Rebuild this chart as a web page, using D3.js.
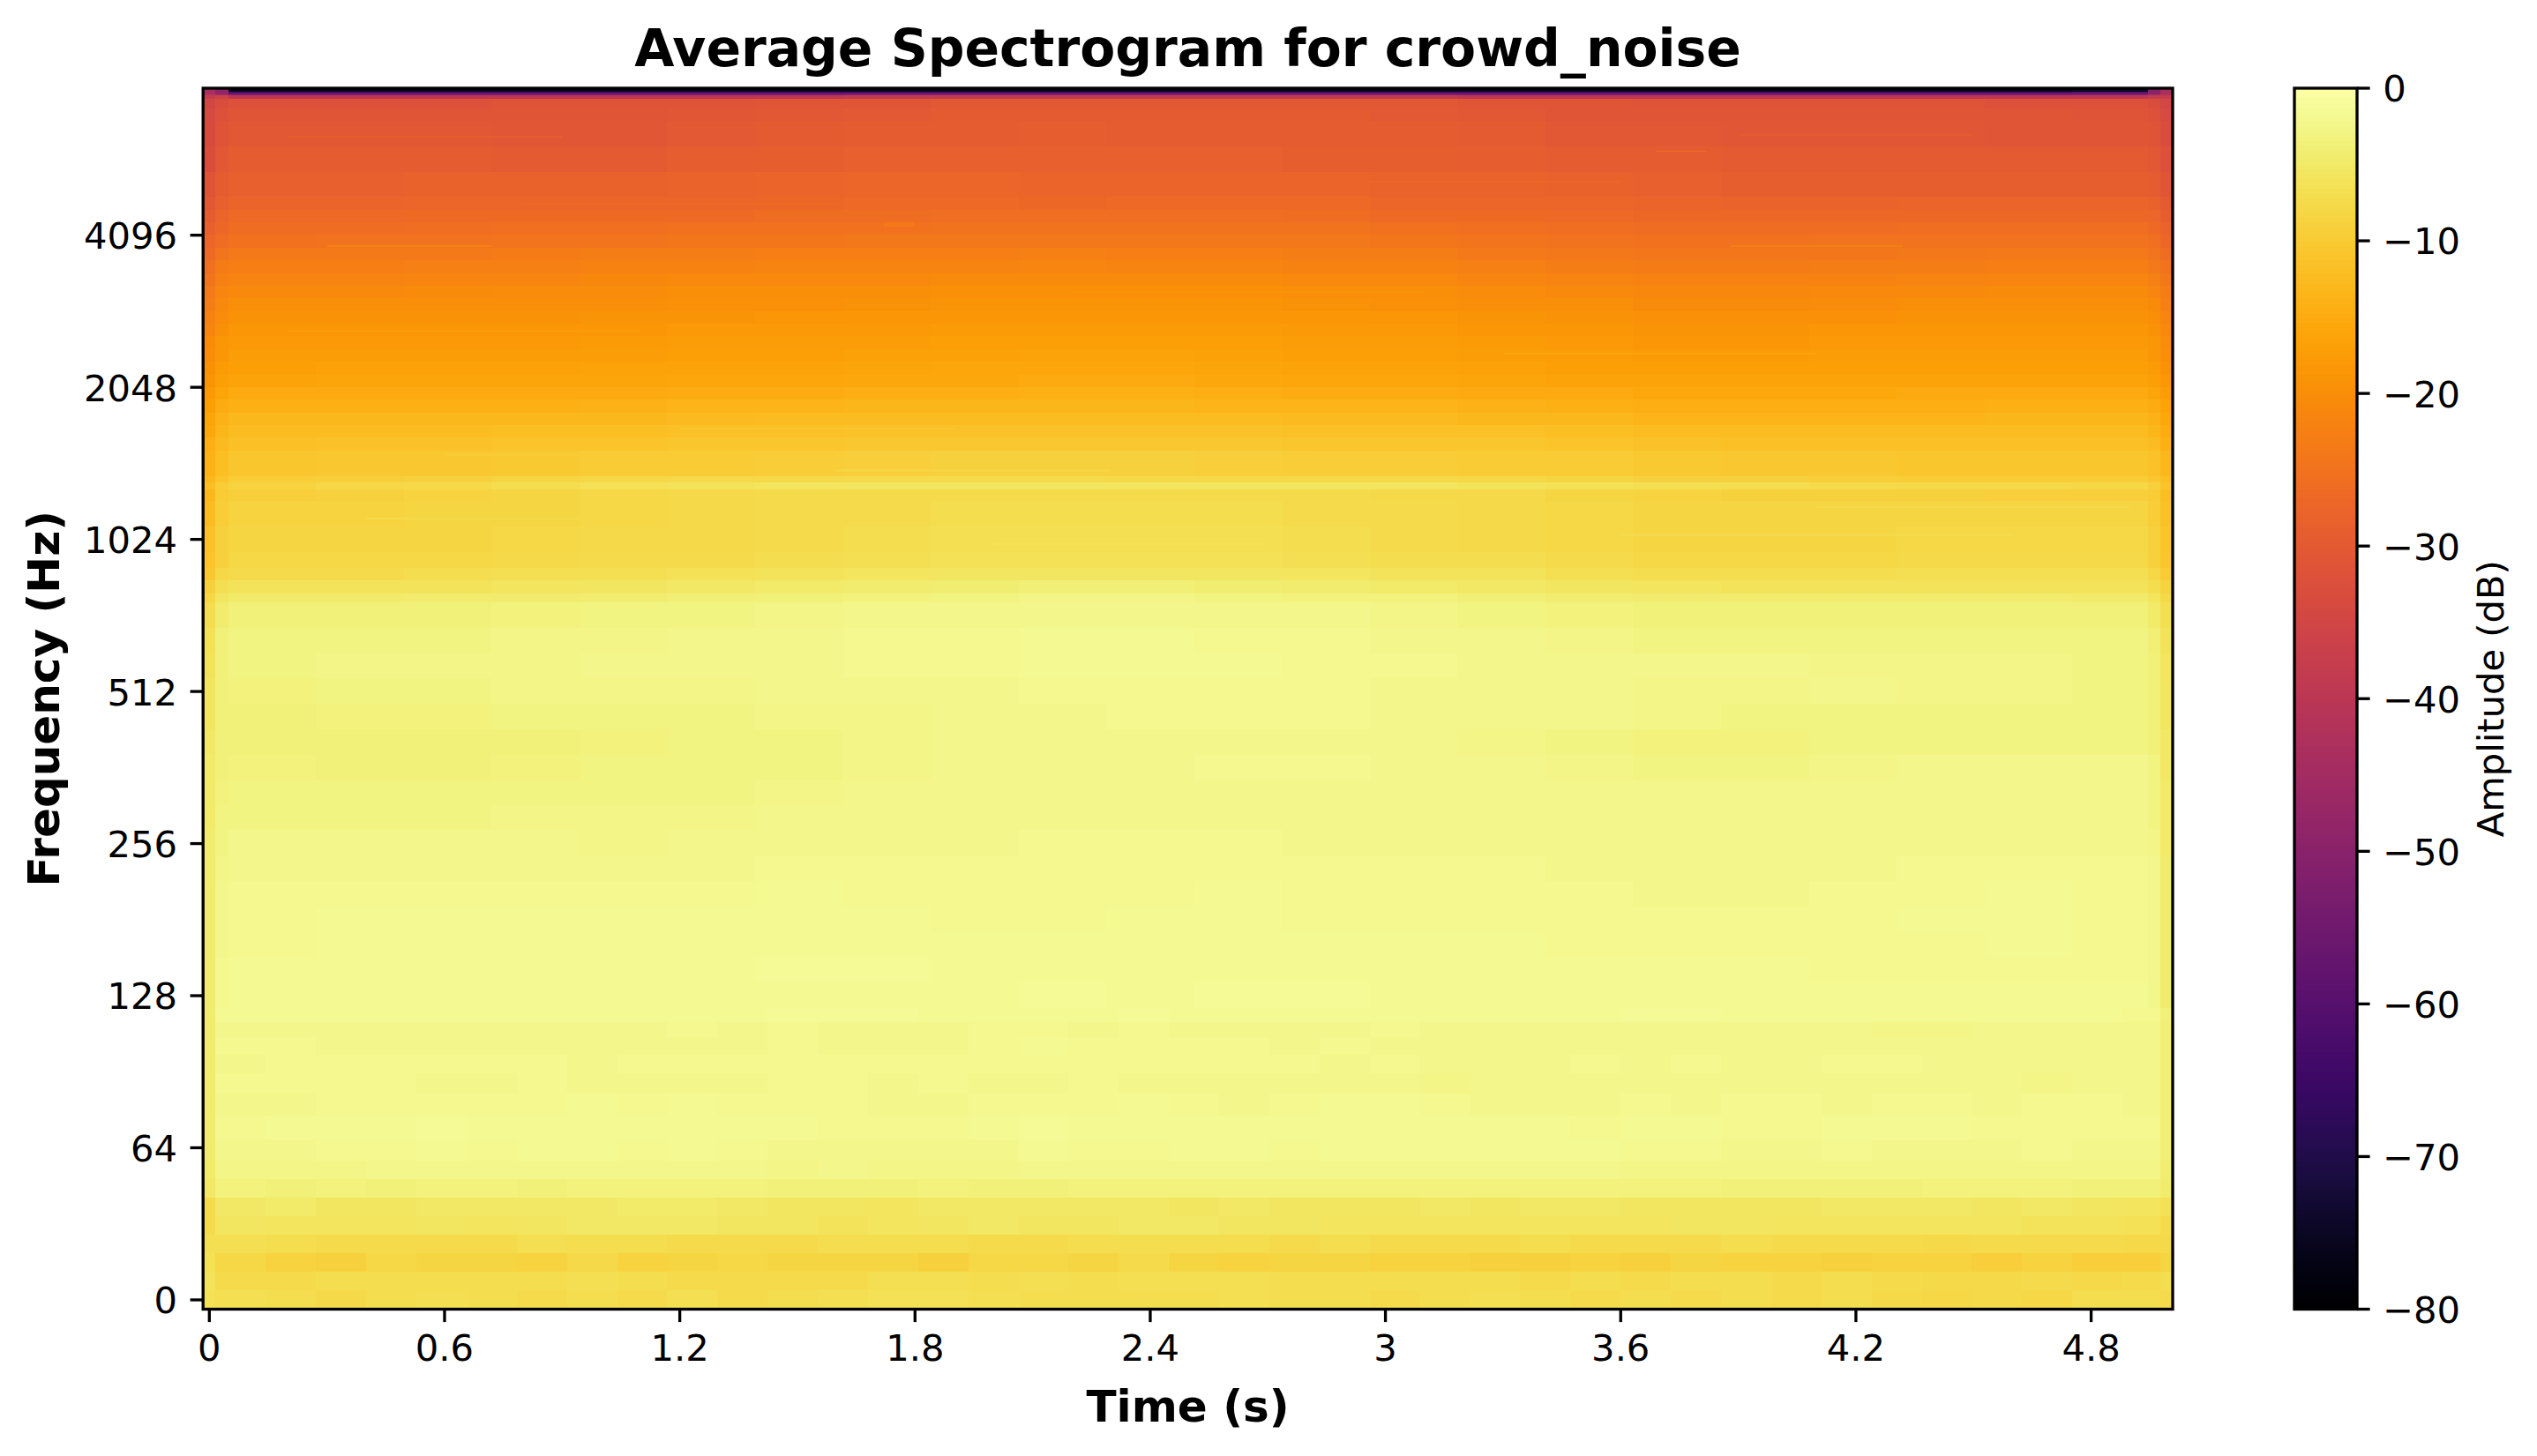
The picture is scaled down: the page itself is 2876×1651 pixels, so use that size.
<!DOCTYPE html>
<html>
<head>
<meta charset="utf-8">
<script src="https://cdn.jsdelivr.net/npm/d3@7"></script>
<style>
  html, body { margin: 0; padding: 0; background: #fff; }
  svg { display: block; font-family: "DejaVu Sans", sans-serif; }
</style>
</head>
<body>
<script>
// frame hop in seconds
const hop = 0.032;

const xTicks = [0, 0.6, 1.2, 1.8, 2.4, 3, 3.6, 4.2, 4.8];
const yTicks = [0, 64, 128, 256, 512, 1024, 2048, 4096];
const cbarTicks = [0, -10, -20, -30, -40, -50, -60, -70, -80];

// high band, frame boundaries of each block column
const highFrames = [0, 1, 2, 9, 16, 23, 30, 37, 44, 51, 58, 65, 72, 79, 86, 93, 100, 107, 114, 121, 128, 135, 142, 149, 155, 156, 157];

// high band, row boundaries in Hz, top row first
const highHz = [8004, 7935, 7870, 7805, 7746, 7622, 7300, 6896, 6144, 5473, 4876, 4600, 4344, 4100, 3870, 3650, 3448, 3255, 3072, 2900, 2737, 2583, 2438, 2300, 2172, 2050, 1935, 1827, 1724, 1627, 1536, 1368, 1330, 1285, 1219, 1086, 968, 900, 850, 800, 768, 684, 609, 543, 484, 431, 384, 342, 305, 272, 242, 216, 192, 171, 152, 136, 121];

// high band amplitude in dB
const highDb = [
  [-44,-49,-79,-79,-79,-79,-79,-79,-79,-79,-79,-79,-79,-79,-79,-79,-79,-79,-79,-79,-79,-79,-79,-79,-50,-44],
  [-44,-49,-76,-76,-76,-76,-76,-76,-76,-76,-76,-76,-76,-76,-76,-76,-76,-76,-76,-76,-76,-76,-76,-75,-50,-44],
  [-44,-49,-62,-62,-62,-62,-62,-62,-62,-62,-62,-62,-62,-62,-62,-62,-62,-62,-62,-62,-62,-62,-62,-60,-50,-44],
  [-42,-46,-52,-52,-52,-52,-52,-52,-52,-51,-51,-51,-51,-51,-51,-51,-52,-52,-52,-52,-52,-52,-52,-52,-47,-42],
  [-38,-36,-40,-40,-40,-40,-40,-40,-40,-39,-39,-39,-39,-39,-39,-39,-40,-40,-40,-40,-40,-40,-40,-40,-38,-38],
  [-35,-33,-32,-32,-32,-31.5,-31.5,-31.5,-31,-31,-30.5,-30.5,-30.5,-30.5,-30.5,-30.5,-31,-31,-31.5,-31.5,-31.5,-31.5,-32,-32,-33,-35],
  [-34,-32,-31,-31,-31,-31,-31,-30.8,-30.5,-30.3,-30,-30,-30,-30,-30,-30.2,-30.5,-31,-31,-31.2,-31.2,-31.2,-31.2,-31.3,-32,-34],
  [-33.5,-31.5,-30.5,-30.6,-30.6,-30.8,-30.8,-30.2,-29.8,-29.6,-29.4,-29.3,-29.4,-29.5,-29.5,-29.6,-30,-30.4,-30.6,-30.8,-30.8,-30.8,-31,-31,-31.5,-33],
  [-33,-30.5,-29.6,-29.6,-29.5,-29.7,-29.8,-29.2,-28.8,-28.6,-28.6,-28.6,-28.6,-28.6,-28.8,-29,-29.2,-29.4,-29.6,-29.8,-30,-30,-30,-30,-30.5,-32],
  [-31.5,-29.5,-28.5,-28.5,-28.3,-28.3,-28.4,-28,-27.7,-27.5,-27.5,-27.6,-27.6,-27.6,-27.8,-28,-28,-28.2,-28.5,-28.8,-29,-29,-28.8,-28.8,-29.5,-31],
  [-30.5,-28.5,-27.7,-27.6,-27.4,-27.2,-27.4,-27.2,-27,-26.8,-26.8,-26.9,-26.8,-26.6,-26.8,-27.2,-27.4,-27.4,-27.8,-28,-28.1,-27.8,-27.8,-27.8,-28.4,-30],
  [-29.5,-27.6,-26.8,-26.8,-26.5,-26.3,-26.5,-26.3,-26.2,-26,-25.9,-25.9,-25.9,-25.8,-26,-26.3,-26.5,-26.6,-26.9,-27.1,-27,-26.9,-26.9,-26.9,-27.5,-29],
  [-28.6,-26.9,-26.1,-26,-25.7,-25.5,-25.5,-25.3,-25.1,-25.1,-25,-24.9,-24.9,-24.9,-25,-25.3,-25.6,-25.8,-26.1,-26.2,-26.1,-25.9,-25.7,-25.7,-26.4,-28],
  [-27.4,-26,-25.1,-25,-24.7,-24.5,-24.4,-24.3,-24.1,-24,-24,-23.9,-23.9,-23.9,-24,-24.3,-24.5,-24.9,-25.1,-25.1,-25,-24.9,-24.7,-24.7,-25.5,-27],
  [-26.5,-24.6,-23.7,-23.7,-23.5,-23.3,-23.1,-22.9,-22.8,-22.7,-22.7,-22.5,-22.7,-22.7,-22.9,-23.1,-23.5,-23.9,-24.3,-24.3,-24.1,-23.9,-23.7,-23.7,-24.5,-26],
  [-25.5,-23.4,-22.7,-22.7,-22.5,-22.3,-22.1,-21.9,-21.7,-21.7,-21.6,-21.5,-21.6,-21.7,-21.9,-22.1,-22.5,-22.9,-23.3,-23.3,-23.1,-22.9,-22.7,-22.7,-23.5,-25],
  [-24.5,-22.5,-21.7,-21.7,-21.5,-21.3,-21.1,-20.9,-20.8,-20.7,-20.5,-20.5,-20.5,-20.5,-20.7,-20.9,-21.3,-21.7,-22.1,-22.1,-21.9,-21.7,-21.5,-21.5,-22.3,-24],
  [-23.5,-21.5,-20.7,-20.7,-20.5,-20.3,-20.1,-19.9,-19.9,-19.7,-19.5,-19.5,-19.5,-19.5,-19.7,-19.9,-20.3,-20.7,-21.1,-21.1,-20.9,-20.7,-20.5,-20.5,-21.3,-23],
  [-23,-20.9,-20,-20,-20,-19.9,-19.8,-19.6,-19.4,-19.2,-19,-19,-19,-19,-19.2,-19.4,-19.7,-20,-20.4,-20.4,-20.2,-20,-19.9,-19.9,-20.6,-22.5],
  [-22,-20.1,-19.2,-19.2,-19.2,-19.1,-19,-18.8,-18.6,-18.4,-18.2,-18.2,-18.2,-18.2,-18.4,-18.6,-18.8,-19.2,-19.6,-19.6,-19.4,-19.2,-19.1,-19.1,-19.8,-21.5],
  [-21.4,-19.4,-18.7,-18.5,-18.5,-18.5,-18.3,-18.1,-18.1,-17.9,-17.7,-17.7,-17.7,-17.7,-17.9,-18.1,-18.3,-18.7,-18.9,-18.9,-18.7,-18.5,-18.5,-18.5,-19.3,-20.8],
  [-20.6,-18.6,-18.1,-17.9,-17.9,-17.9,-17.7,-17.5,-17.5,-17.3,-17.1,-17.1,-17.1,-17.1,-17.3,-17.5,-17.7,-18.1,-18.3,-18.3,-18.1,-17.9,-17.9,-17.9,-18.7,-20.2],
  [-20.3,-18.3,-17.5,-17.3,-17.3,-17.3,-17.2,-17.1,-16.9,-16.7,-16.6,-16.5,-16.5,-16.7,-16.9,-17.1,-17.3,-17.5,-17.7,-17.7,-17.5,-17.5,-17.5,-17.5,-18.3,-19.8],
  [-19.6,-17.6,-16.9,-16.7,-16.7,-16.7,-16.5,-16.4,-16.3,-16.1,-15.9,-15.9,-15.9,-16.1,-16.3,-16.5,-16.7,-16.9,-17.1,-17.1,-16.9,-16.9,-16.9,-16.9,-17.7,-19.2],
  [-19,-17,-16.3,-16.1,-16.1,-16.2,-16.1,-15.9,-15.7,-15.5,-15.5,-15.3,-15.3,-15.5,-15.7,-15.9,-16.1,-16.3,-16.5,-16.5,-16.5,-16.3,-16.3,-16.3,-17,-18.5],
  [-18,-16,-15.3,-15.1,-15.1,-15.3,-15.1,-14.9,-14.7,-14.5,-14.5,-14.3,-14.3,-14.5,-14.7,-14.9,-15.1,-15.3,-15.5,-15.5,-15.5,-15.3,-15.3,-15.3,-16,-17.5],
  [-17,-15,-14.1,-14.1,-14.1,-14.1,-13.9,-13.7,-13.5,-13.3,-13.3,-13.3,-13.3,-13.5,-13.7,-13.7,-13.9,-14.1,-14.5,-14.5,-14.5,-14.5,-14.3,-14.3,-15,-16.5],
  [-16,-14,-13.1,-13.1,-13.1,-13.1,-12.9,-12.7,-12.5,-12.3,-12.3,-12.3,-12.3,-12.5,-12.7,-12.7,-12.9,-13.1,-13.5,-13.5,-13.5,-13.5,-13.3,-13.3,-14,-15.5],
  [-15.4,-13.4,-12.5,-12.4,-12.2,-12,-12,-11.8,-11.6,-11.4,-11.4,-11.4,-11.4,-11.4,-11.6,-11.6,-11.8,-12,-12.4,-12.4,-12.4,-12.4,-12.4,-12.4,-13.2,-14.9],
  [-14.6,-12.6,-11.6,-11.5,-11.3,-11.1,-11.1,-10.9,-10.7,-10.5,-10.5,-10.5,-10.5,-10.5,-10.7,-10.8,-10.9,-11.2,-11.5,-11.6,-11.6,-11.6,-11.6,-11.6,-12.4,-14.1],
  [-14,-12,-10.8,-10.6,-10.4,-10.2,-10,-9.8,-9.6,-9.2,-9,-9,-9,-9.2,-9.4,-9.6,-9.8,-10,-10.2,-10.4,-10.6,-10.8,-10.8,-10.8,-11.5,-13],
  [-13,-11,-9.6,-9.2,-8.8,-8.4,-8,-7.8,-7.6,-7.4,-7.2,-7.4,-7.6,-7.6,-7.6,-7.8,-8,-8.4,-8.8,-9,-9.2,-9.4,-9.6,-9.6,-10.5,-12],
  [-12,-9.5,-8.6,-8,-7.6,-7,-6.4,-6,-5.8,-5.6,-5.6,-5.6,-5.8,-5.6,-5.6,-5.8,-6,-6.4,-6.8,-7,-7.4,-7.6,-7.8,-8,-9,-11],
  [-13,-10,-9.2,-9,-8.6,-8.2,-8,-7.6,-7.4,-7.2,-7.2,-7.2,-7.4,-7.2,-7.4,-7.6,-7.8,-8.2,-8.6,-8.8,-9,-9,-9.2,-9.2,-10,-12],
  [-12.5,-9.5,-8.6,-8.6,-8.4,-8.2,-8,-7.8,-7.4,-7.2,-7,-7,-7,-7,-7.2,-7.4,-7.6,-8,-8.2,-8.2,-8.2,-8.2,-8.4,-8.4,-9.5,-11.5],
  [-11.5,-9,-8.2,-8.2,-8.2,-8,-7.8,-7.6,-7.2,-7,-6.8,-6.6,-6.6,-6.8,-7,-7.2,-7.6,-8,-8.4,-8.4,-8.2,-8,-8,-8,-9,-11],
  [-11.2,-8.8,-8,-8,-7.9,-7.7,-7.5,-7.3,-6.9,-6.7,-6.5,-6.3,-6.3,-6.3,-6.7,-6.9,-7.1,-7.5,-7.9,-7.9,-7.9,-7.7,-7.7,-7.7,-8.8,-10.8],
  [-10.5,-8,-7.2,-7.2,-7,-6.8,-6.6,-6.4,-6,-5.8,-5.6,-5.4,-5.4,-5.4,-5.8,-6,-6.2,-6.6,-7,-7,-7,-6.8,-6.8,-6.8,-8,-10],
  [-9,-6.8,-6.2,-6.2,-6,-5.8,-5.6,-5.3,-4.9,-4.5,-4.2,-4,-4,-4.2,-4.5,-4.7,-5.1,-5.5,-5.8,-6,-6,-6,-6,-6.2,-7,-8.5],
  [-8,-5.6,-4.8,-4.8,-4.6,-4.4,-4.2,-4,-3.6,-3.2,-3,-2.8,-2.8,-3,-3.2,-3.4,-3.8,-4.2,-4.4,-4.6,-4.6,-4.6,-4.6,-4.8,-5.8,-7.6],
  [-7,-4.5,-3.7,-3.7,-3.5,-3.3,-3,-2.9,-2.7,-2.4,-2.2,-2.2,-2.2,-2.4,-2.5,-2.7,-2.9,-3.3,-3.5,-3.5,-3.5,-3.5,-3.5,-3.7,-4.9,-6.6],
  [-6.5,-3.7,-3,-3,-2.9,-2.7,-2.7,-2.5,-2.4,-2.1,-2,-1.8,-1.8,-2,-2.1,-2.2,-2.5,-2.7,-2.9,-2.9,-2.9,-2.9,-2.9,-3,-3.9,-6.2],
  [-6,-3.5,-2.9,-2.7,-2.7,-2.7,-2.5,-2.5,-2.4,-2.1,-2,-1.7,-1.7,-1.8,-2,-2.1,-2.2,-2.5,-2.5,-2.5,-2.7,-2.7,-2.7,-2.9,-3.7,-5.8],
  [-5.6,-3.7,-3.3,-3,-2.9,-2.7,-2.7,-2.7,-2.5,-2.4,-2.2,-2.1,-2,-2,-2.1,-2.2,-2.4,-2.5,-2.7,-2.7,-2.5,-2.7,-2.7,-2.9,-3.5,-5.5],
  [-5.4,-3.7,-3.5,-3.3,-3.3,-3,-2.9,-2.9,-2.7,-2.7,-2.5,-2.2,-2.1,-2,-2.1,-2.2,-2.4,-2.5,-2.7,-2.9,-2.9,-2.9,-2.9,-3,-3.5,-5.5],
  [-5.2,-3.7,-3.5,-3.7,-3.7,-3.5,-3.3,-3,-2.9,-2.7,-2.5,-2.4,-2.2,-2.2,-2.2,-2.4,-2.7,-3,-3.3,-3.3,-3,-2.9,-2.9,-2.9,-3.5,-5.3],
  [-5,-3.5,-3.3,-3.5,-3.5,-3.3,-3,-2.9,-2.9,-2.7,-2.5,-2.4,-2.2,-2.1,-2.1,-2.2,-2.5,-2.7,-2.9,-2.9,-2.7,-2.5,-2.5,-2.5,-3,-5.2],
  [-5,-3.3,-3,-2.9,-2.9,-3,-3,-2.9,-2.7,-2.5,-2.5,-2.4,-2.2,-2.2,-2.2,-2.4,-2.4,-2.5,-2.5,-2.5,-2.5,-2.4,-2.4,-2.5,-3,-5],
  [-4.8,-3,-2.9,-2.9,-2.9,-2.7,-2.7,-2.7,-2.5,-2.5,-2.4,-2.2,-2.2,-2.2,-2.2,-2.2,-2.4,-2.4,-2.5,-2.5,-2.4,-2.4,-2.4,-2.4,-2.9,-4.9],
  [-4.6,-2.9,-2.5,-2.5,-2.5,-2.5,-2.7,-2.4,-2.4,-2.4,-2.2,-2.1,-2.1,-2.1,-2.2,-2.2,-2.2,-2.4,-2.4,-2.4,-2.5,-2.4,-2.2,-2.2,-2.7,-4.8],
  [-4.6,-2.7,-2.2,-2.2,-2.2,-2.2,-2.2,-2.2,-2.1,-2.1,-2.1,-2.1,-2,-2,-2.1,-2.1,-2.1,-2.2,-2.2,-2.2,-2.2,-2.1,-2.1,-2.1,-2.5,-4.6],
  [-4.6,-2.5,-2.1,-2,-2,-2,-2,-2,-1.8,-2,-2,-2,-2,-1.8,-2,-2.1,-2.1,-2.1,-2.2,-2.2,-2.1,-2,-1.8,-2,-2.4,-4.6],
  [-4.5,-2.4,-2,-1.8,-1.8,-1.8,-1.8,-1.7,-1.8,-1.8,-2,-2,-1.8,-1.8,-2,-2,-2,-2,-2.1,-2.1,-2,-1.8,-1.8,-2,-2.2,-4.5],
  [-4.5,-2.2,-2,-1.8,-1.8,-1.8,-1.7,-1.8,-1.7,-1.7,-1.7,-1.8,-1.8,-1.7,-1.8,-1.8,-1.8,-2,-2,-2,-2,-2,-1.8,-2,-2.2,-4.5],
  [-4.4,-2.1,-1.8,-1.7,-1.7,-1.8,-1.8,-1.8,-1.5,-1.5,-1.7,-1.7,-1.7,-1.7,-1.7,-1.7,-1.7,-1.8,-1.8,-1.8,-2,-2,-2,-2,-2.2,-4.4],
  [-4.4,-2,-1.7,-1.7,-1.7,-1.8,-1.8,-1.8,-1.7,-1.7,-1.7,-1.5,-1.7,-1.5,-1.5,-1.7,-1.7,-1.7,-1.7,-1.7,-1.8,-1.8,-1.8,-1.8,-2.2,-4.4],
];

// low band, frame boundaries of each block column
const lowFrames = [0, 1, 5, 9, 13, 17, 21, 25, 29, 33, 37, 41, 45, 49, 53, 57, 61, 65, 69, 73, 77, 81, 85, 89, 93, 97, 101, 105, 109, 113, 117, 121, 125, 129, 133, 137, 141, 145, 149, 153, 156, 157];

// low band, centre of each STFT bin in Hz, top row first
const lowHz = [117.19, 109.38, 101.56, 93.75, 85.94, 78.13, 70.31, 62.5, 54.69, 46.88, 39.06, 31.25, 23.44, 15.63, 7.81, 0];
const binWidth = 7.8125;

// low band amplitude in dB
const lowDb = [
  [-4.5,-1.6,-1.7,-1.8,-1.7,-1.7,-1.8,-1.7,-1.8,-1.6, -1.6,-1.7,-1.4,-1.5,-1.4,-1.6,-1.6,-1.6,-1.7,-1.5, -1.6,-1.6,-1.7,-1.7,-1.6,-1.6,-1.6,-1.8,-1.8,-1.5, -1.5,-1.6,-1.6,-1.7,-1.7,-1.8,-1.7,-1.7,-1.8,-1.9,-3.6],
  [-4.6,-2.2,-2.2,-2.2,-2.4,-2.3,-2.3,-2.5,-2.2,-2.2, -2.1,-2.2,-2,-2.2,-2.2,-2.2,-2.1,-2,-2.2,-2, -2.3,-2.3,-2.2,-2.2,-2.1,-2.3,-2.4,-2.4,-2.5,-2.3, -2.5,-2.4,-2.3,-2.4,-2.6,-2.6,-2.4,-2.3,-2.4,-2.5,-4],
  [-4.5,-2.1,-2,-2.2,-2.2,-2.3,-2.4,-2.5,-2.3,-2.2, -2.2,-2.2,-2,-2.2,-2.2,-2.2,-2.1,-1.8,-2.1,-2.1, -2.1,-2.1,-2.2,-2.1,-2.2,-2.2,-2.2,-2.4,-2.4,-2.3, -2.4,-2.3,-2.5,-2.2,-2.2,-2.2,-2.2,-2.3,-2.3,-2.4,-4],
  [-4.5,-2.2,-1.9,-2,-2,-2,-2.1,-2.1,-2.2,-2.1, -2,-2,-1.9,-2,-2,-2,-2,-1.9,-2,-2, -2,-2,-2,-2.2,-2.1,-2.2,-2.2,-2.2,-2,-2.2, -2.1,-2.2,-2.2,-2.1,-2,-2.2,-2.3,-2.2,-2.2,-2.3,-3.9],
  [-4.5,-2.1,-2,-2.1,-2,-2.2,-2.2,-2.1,-2.2,-2.2, -2.2,-2.2,-2,-2.1,-2.2,-2.1,-2.2,-2.4,-2.1,-2.2, -2.2,-2.2,-2.4,-2.5,-2.3,-2.6,-2.2,-2.4,-2.4,-2.3, -2.2,-2.5,-2.5,-2.2,-2.2,-2.3,-2.3,-2.6,-2.3,-2.5,-3.9],
  [-4.6,-2.2,-2.2,-1.9,-1.9,-1.9,-1.9,-1.9,-1.8,-1.9, -1.8,-2,-1.9,-2.1,-2.5,-2.4,-2.1,-2,-2.1,-1.8, -2.1,-2.2,-1.9,-1.8,-1.8,-1.9,-2.2,-2.2,-2.2,-2, -2.2,-2.1,-1.9,-2.2,-2,-2.1,-2.2,-2.1,-2.1,-2.2,-3.8],
  [-4.6,-1.9,-1.8,-1.6,-1.7,-1.5,-1.7,-1.7,-1.7,-1.8, -1.6,-1.7,-1.7,-1.9,-2,-2,-1.8,-1.5,-1.8,-1.8, -1.7,-1.7,-1.8,-1.8,-1.8,-1.6,-1.6,-1.7,-1.9,-1.8, -1.8,-1.9,-1.9,-1.7,-1.8,-1.8,-2,-1.9,-1.9,-2.1,-3.8],
  [-4.6,-2.2,-2.2,-1.9,-1.9,-1.7,-1.9,-1.8,-1.8,-1.9, -1.8,-2,-2.2,-2.2,-2.3,-2.2,-2.2,-1.8,-2.1,-2, -1.8,-1.8,-2,-1.8,-1.7,-1.8,-1.6,-1.6,-1.8,-2, -2.1,-2.2,-2.2,-2.1,-2.2,-2.2,-2.2,-2.1,-2.2,-2.2,-3.9],
  [-4.8,-2.6,-2.6,-2.7,-2.3,-2.5,-2.5,-2.4,-2.3,-2.3, -2.4,-2.5,-2.6,-2.5,-2.6,-2.7,-2.7,-2.4,-2.5,-2.4, -2.3,-2.5,-2.4,-2.3,-2.3,-2.5,-2.5,-2.2,-2.5,-2.6, -2.6,-2.7,-2.7,-2.6,-2.6,-2.7,-2.7,-2.6,-2.6,-2.7,-4.2],
  [-5.2,-3.3,-3.5,-3.4,-3.5,-3.4,-3.4,-3.6,-3.3,-3.4, -3.2,-3.4,-3.5,-3.5,-3.5,-3.4,-3.6,-3.5,-3.4,-3.4, -3.4,-3.3,-3.3,-3.3,-3.4,-3.3,-3.2,-3.2,-3.3,-3.3, -3.4,-3.5,-3.5,-3.5,-3.5,-3.4,-3.4,-3.4,-3.5,-3.5,-4.6],
  [-7.2,-5.1,-5,-5.4,-5.5,-5.1,-5.2,-5.2,-5.1,-5, -5,-5.2,-5.5,-5.5,-5.7,-5.3,-5.2,-5.3,-5.3,-5.3, -5.5,-5.3,-5.4,-5.6,-5.5,-5.1,-5.4,-5.2,-5.3,-5.5, -5.5,-5.6,-5.4,-5.3,-5.3,-5.3,-5.4,-5.3,-5.4,-5.7,-6.4],
  [-7.4,-5.6,-5.8,-5.9,-5.9,-5.6,-5.8,-5.6,-5.2,-5.2, -5.2,-5.5,-5.6,-6,-5.8,-5.4,-5.3,-5.4,-5.4,-5.1, -5.2,-5.4,-5.5,-5.7,-5.8,-5.9,-5.9,-5.8,-5.7,-5.7, -5.5,-5.6,-5.8,-5.8,-5.7,-5.9,-5.9,-6,-6.1,-6.5,-7.2],
  [-6.6,-6.8,-7.1,-7.4,-7.2,-7.2,-7.2,-6.8,-7.1,-7, -7.4,-7.2,-7.4,-7.1,-7.1,-6.9,-7.2,-7.3,-7,-7.1, -7.1,-7.1,-7.2,-7,-7.2,-7.2,-7.2,-7.1,-7.3,-7.3, -7.4,-7.1,-7.3,-7.3,-7.4,-7.6,-7.5,-7.4,-7.5,-7.6,-7.7],
  [-6.4,-7.9,-8.7,-8.8,-8,-8.2,-8.4,-8.6,-7.8,-8.5, -8.2,-8.1,-8.3,-8.2,-8.3,-9,-8,-7.9,-8.2,-7.5, -8.3,-8.6,-8.2,-8.2,-8.6,-8.5,-9,-9,-8.7,-8.8, -8.4,-8.7,-8.7,-9,-8.6,-8.7,-9.1,-8.6,-9.2,-9.2,-8.2],
  [-6,-7.2,-7.5,-7.1,-6.9,-7,-6.9,-7.1,-6.7,-7.1, -7.2,-7.3,-7.4,-7.2,-6.6,-6.6,-6.9,-6.6,-6.9,-6.8, -6.6,-6.8,-7.1,-7,-7,-7.1,-7,-7.2,-7.1,-7.2, -6.9,-7.1,-7.2,-7.1,-7.3,-7.7,-7.6,-7.4,-7.6,-7.4,-7],
  [-6.5,-6.6,-7,-7.6,-7,-6.8,-7.1,-7.2,-7,-7.4, -6.7,-7.4,-7.1,-6.6,-6.5,-6.5,-6.6,-7,-6.9,-7.1, -7,-6.8,-7.1,-7,-7.2,-6.9,-6.7,-6.9,-7.5,-7, -7.3,-7.1,-7.2,-7,-7.6,-7.9,-7.6,-7.9,-7.1,-7,-7.3],
];

// thin lines that stand out of the block columns: low Hz, high Hz, from s, to s, dB
const streaks = [
  [3890, 3920, 0.3, 0.72, -22],
  [3890, 3920, 3.88, 4.32, -22.5],
  [5985, 6015, 3.69, 3.82, -26],
  [4260, 4340, 1.72, 1.8, -23.5],
  [1500, 1515, 0.6, 1.6, -9.8],
  [1490, 1510, 2.8, 3.5, -9.8],
  [1395, 1410, 1.6, 2.3, -8.2],
  [1690, 1705, 1.2, 1.9, -10.8],
  [2640, 2665, 0.2, 1.1, -17.4],
  [3150, 3175, 2.2, 3.1, -19],
  [2380, 2400, 3.3, 4.1, -16.4],
  [4700, 4730, 0.8, 1.6, -26],
  [5200, 5240, 2.9, 3.6, -27.2],
  [6400, 6450, 0.2, 0.9, -29],
  [6450, 6500, 3.9, 4.5, -29.6],
  [1120, 1130, 0.4, 1.3, -7.8],
  [1040, 1050, 3.6, 4.6, -7.4],
  [1000, 1008, 2, 2.7, -6.4],
  [1180, 1190, 4.1, 4.9, -7.6],
];

const width = 2876;
const height = 1651;
const plot = { left: 230.2, right: 2463, top: 100, bottom: 1484.5 };
const cbar = { left: 2601, right: 2672 };

// log2 above 64 Hz, linear below it, same as the symlog axis of the plot
const symlog2 = (f) => (f >= 64 ? Math.log2(f / 64) + 1 : f / 64);

const xScale = d3.scaleLinear()
  .domain([-hop / 2, 156 * hop + hop / 2])
  .range([plot.left, plot.right]);

const yLinear = d3.scaleLinear()
  .domain([symlog2(-binWidth / 2), symlog2(8004)])
  .range([plot.bottom, plot.top]);

const yScale = (f) => yLinear(symlog2(f));
yScale.domain = () => [-binWidth / 2, 8004];
yScale.range = () => [plot.bottom, plot.top];
yScale.copy = () => yScale;

const color = d3.scaleSequential(d3.interpolateInferno).domain([-80, 0]);

const cbarScale = d3.scaleLinear().domain([-80, 0]).range([plot.bottom, plot.top]);

const svg = d3.select('body')
  .append('svg')
  .attr('width', width)
  .attr('height', height)
  .attr('viewBox', `0 0 ${width} ${height}`);

const frameX = (frame) => xScale(frame * hop - hop / 2);

// flatten both tables into cells, all of them drawn through the scales
const cells = [];
highDb.forEach((row, r) => {
  row.forEach((db, c) => {
    cells.push({
      x0: frameX(highFrames[c]),
      x1: frameX(highFrames[c + 1]),
      y0: yScale(highHz[r]),
      y1: yScale(highHz[r + 1]),
      db,
    });
  });
});
lowDb.forEach((row, r) => {
  row.forEach((db, c) => {
    cells.push({
      x0: frameX(lowFrames[c]),
      x1: frameX(lowFrames[c + 1]),
      y0: yScale(lowHz[r] + binWidth / 2),
      y1: yScale(lowHz[r] - binWidth / 2),
      db,
    });
  });
});
streaks.forEach(([lo, hi, from, to, db]) => {
  cells.push({ x0: xScale(from), x1: xScale(to), y0: yScale(hi), y1: yScale(lo), db });
});

svg.append('g')
  .attr('shape-rendering', 'crispEdges')
  .selectAll('rect')
  .data(cells)
  .join('rect')
  .attr('x', (d) => d.x0)
  .attr('y', (d) => d.y0)
  .attr('width', (d) => d.x1 - d.x0)
  .attr('height', (d) => d.y1 - d.y0)
  .attr('fill', (d) => color(d.db));

// colorbar, one band per colormap level
const levels = d3.range(256).map((i) => -80 + (i * 80) / 256);
svg.append('g')
  .attr('shape-rendering', 'crispEdges')
  .selectAll('rect')
  .data(levels)
  .join('rect')
  .attr('x', cbar.left)
  .attr('y', (d) => cbarScale(d + 80 / 256))
  .attr('width', cbar.right - cbar.left)
  .attr('height', (d) => cbarScale(d) - cbarScale(d + 80 / 256) + 0.5)
  .attr('fill', (d) => color(d + 40 / 256));

const tickLength = 14.6;
const tickPad = 14.6;
const tickWidth = 3.33;
const tickFont = 41.67;

const styleAxis = (g) => {
  g.select('.domain').remove();
  g.selectAll('line').attr('stroke', '#000').attr('stroke-width', tickWidth);
  g.selectAll('text').attr('fill', '#000').attr('font-size', tickFont).attr('font-family', '"DejaVu Sans", sans-serif');
};

svg.append('g')
  .attr('transform', `translate(0,${plot.bottom})`)
  .call(
    d3.axisBottom(xScale)
      .tickValues(xTicks)
      .tickFormat((d) => String(d))
      .tickSize(tickLength)
      .tickPadding(tickPad)
      .offset(0)
  )
  .call(styleAxis);

svg.append('g')
  .attr('transform', `translate(${plot.left},0)`)
  .call(
    d3.axisLeft(yScale)
      .tickValues(yTicks)
      .tickFormat((d) => String(d))
      .tickSize(tickLength)
      .tickPadding(tickPad)
      .offset(0)
  )
  .call(styleAxis)
  .call((g) => g.selectAll('text').attr('dy', '0.37em'));

svg.append('g')
  .attr('transform', `translate(${cbar.right},0)`)
  .call(
    d3.axisRight(cbarScale)
      .tickValues(cbarTicks)
      .tickFormat((d) => String(d).replace('-', '\u2212'))
      .tickSize(tickLength)
      .tickPadding(tickPad)
      .offset(0)
  )
  .call(styleAxis)
  .call((g) => g.selectAll('text').attr('dy', '0.37em'));

// spines
svg.append('rect')
  .attr('x', plot.left)
  .attr('y', plot.top)
  .attr('width', plot.right - plot.left)
  .attr('height', plot.bottom - plot.top)
  .attr('fill', 'none')
  .attr('stroke', '#000')
  .attr('stroke-width', tickWidth);

svg.append('rect')
  .attr('x', cbar.left)
  .attr('y', plot.top)
  .attr('width', cbar.right - cbar.left)
  .attr('height', plot.bottom - plot.top)
  .attr('fill', 'none')
  .attr('stroke', '#000')
  .attr('stroke-width', tickWidth);

// titles
svg.append('text')
  .attr('x', (plot.left + plot.right) / 2)
  .attr('y', 75)
  .attr('text-anchor', 'middle')
  .attr('font-size', 58.33)
  .attr('font-weight', 'bold')
  .text('Average Spectrogram for crowd_noise');

svg.append('text')
  .attr('x', (plot.left + plot.right) / 2)
  .attr('y', 1612)
  .attr('text-anchor', 'middle')
  .attr('font-size', 50)
  .attr('font-weight', 'bold')
  .text('Time (s)');

svg.append('text')
  .attr('transform', `translate(67,${(plot.top + plot.bottom) / 2}) rotate(-90)`)
  .attr('text-anchor', 'middle')
  .attr('font-size', 50)
  .attr('font-weight', 'bold')
  .text('Frequency (Hz)');

svg.append('text')
  .attr('transform', `translate(2838,${(plot.top + plot.bottom) / 2}) rotate(-90)`)
  .attr('text-anchor', 'middle')
  .attr('font-size', tickFont)
  .text('Amplitude (dB)');
</script>
</body>
</html>
